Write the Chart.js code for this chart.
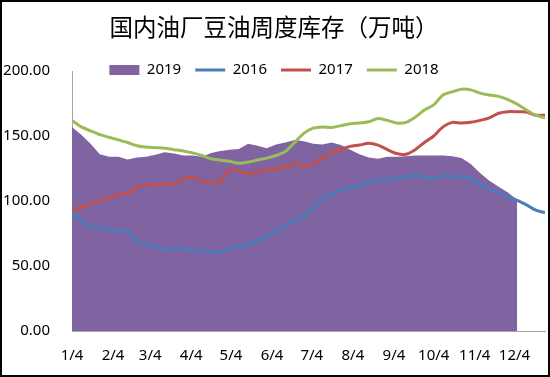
<!DOCTYPE html>
<html>
<head>
<meta charset="utf-8">
<script src="https://cdn.jsdelivr.net/npm/chart.js@4/dist/chart.umd.min.js"></script>
<style>
  body { margin: 0; background: #fff; }
  #frame { width: 550px; height: 377px; box-sizing: border-box; border: 2px solid #000; background: #fff; }
  #box { position: relative; width: 546px; height: 373px; }
</style>
</head>
<body>
<div id="frame"><div id="box"><canvas id="myChart"></canvas></div></div>
<script>
// days counted from 1/4, one point per week
var weekDays = [0, 7, 14, 21, 28, 35, 42, 49, 56, 63, 70, 77, 84, 91, 98, 105, 112, 119, 126, 133,
  140, 147, 154, 161, 168, 175, 182, 189, 196, 203, 210, 217, 224, 231, 238, 245, 252, 259, 266, 273,
  280, 287, 294, 301, 308, 315, 322, 329, 336, 343, 350, 357];
var monthTicks = [0, 31, 59, 90, 120, 151, 181, 212, 243, 273, 304, 334];
var monthLabels = ['1/4', '2/4', '3/4', '4/4', '5/4', '6/4', '7/4', '8/4', '9/4', '10/4', '11/4', '12/4'];
var yTicks = [0, 50, 100, 150, 200];

var d2019 = [157, 151, 144, 136, 134, 134, 132, 133.5, 134, 135.5, 137.5, 136.5, 135, 135, 134, 137, 138.5, 139.5, 140, 144,
  142.5, 140.5, 143.5, 145, 147, 146, 144, 143.5, 145, 143, 139.5, 136, 133.5, 132.5, 134, 134, 134.5, 135, 135, 135,
  135, 134.5, 133, 128.5, 121.5, 115.5, 111, 106.5, 101];
var d2016 = [91, 85, 80.5, 79, 78, 77, 77, 68.5, 67, 65, 62.5, 64, 63.5, 62, 61.5, 60.5, 61, 63, 65, 66.5,
  69.5, 73, 77, 81, 85, 89, 94, 102, 105, 108.5, 110, 112, 114.5, 116, 116.5, 117.5, 119, 119.5, 118.5, 118,
  119.5, 119, 118.7, 117.5, 113, 109, 106.5, 103, 100.5, 97, 93, 91];
var d2017 = [93, 95, 98, 100.5, 102, 105, 105.5, 111, 112, 113, 112.5, 113.5, 117, 118, 115, 114.5, 115, 124.5, 123, 121,
  122.5, 123.5, 124.5, 126, 129, 126.5, 129, 133, 137, 140, 142, 143, 144.4, 143, 139.5, 136.5, 136, 139.5, 145, 150,
  157, 160.5, 160, 160.5, 162, 164, 167.5, 168.7, 168.7, 168.5, 166, 166];
var d2018 = [162, 157, 154, 151, 149, 147, 145, 142.5, 141.5, 141, 140.5, 139.5, 138.5, 137, 135, 132.5, 131.5, 130.5, 129, 130,
  131.5, 133, 135, 138, 145, 152, 156, 157, 156.6, 158, 159.5, 160, 161, 163.5, 162, 160, 160.5, 164.5, 170, 174,
  181.5, 184, 186, 185.5, 183, 181.5, 180.5, 178, 174.5, 170, 166, 164];

function pts(arr) {
  return arr.map(function(v, i) { return {x: weekDays[i], y: v}; });
}

var tickFont = {family: "'Noto Sans', sans-serif", size: 15};

// legend sits right on the top edge of the plot, so let it draw past its box
var legendUnclip = {
  id: 'legendUnclip',
  afterLayout: function(chart) {
    if (chart.legend) chart.legend.bottom = chart.legend.top + 45;
  }
};

var ctx = document.getElementById('myChart').getContext('2d');
var chart = new Chart(ctx, {
  type: 'line',
  data: {
    datasets: [{
      label: '2019',
      data: pts(d2019),
      fill: 'origin',
      backgroundColor: '#8064A2',
      borderColor: '#8064A2',
      borderWidth: 0,
      pointRadius: 0,
      pointStyle: 'rect',
      tension: 0,
      order: 4
    }, {
      label: '2016',
      data: pts(d2016),
      borderColor: '#4A7EBB',
      backgroundColor: '#4A7EBB',
      borderWidth: 3,
      pointRadius: 0,
      pointStyle: 'line',
      tension: 0.25,
      order: 3
    }, {
      label: '2017',
      data: pts(d2017),
      borderColor: '#C0504D',
      backgroundColor: '#C0504D',
      borderWidth: 3,
      pointRadius: 0,
      pointStyle: 'line',
      tension: 0.25,
      order: 2
    }, {
      label: '2018',
      data: pts(d2018),
      borderColor: '#9BBB59',
      backgroundColor: '#9BBB59',
      borderWidth: 3,
      pointRadius: 0,
      pointStyle: 'line',
      tension: 0.25,
      order: 1
    }]
  },
  plugins: [legendUnclip],
  options: {
    responsive: true,
    maintainAspectRatio: false,
    animation: false,
    layout: {padding: {left: 1, right: 3, top: 0, bottom: 11}},
    plugins: {
      title: {
        display: true,
        text: '国内油厂豆油周度库存（万吨）',
        color: '#000',
        font: {family: "'Noto Sans CJK SC', sans-serif", size: 23.5, weight: 'normal'},
        padding: {top: 11, bottom: 7.2}
      },
      legend: {
        position: 'top',
        maxHeight: 22.6,
        labels: {
          usePointStyle: true,
          pointStyleWidth: 30,
          boxHeight: 10,
          padding: 14,
          color: '#000',
          font: tickFont,
          sort: function(a, b) { return a.datasetIndex - b.datasetIndex; }
        }
      },
      tooltip: {enabled: false}
    },
    scales: {
      x: {
        type: 'linear',
        min: 0,
        max: 357,
        grid: {display: false, drawTicks: false},
        border: {display: true, color: '#A6A6A6', width: 1},
        afterBuildTicks: function(scale) {
          scale.ticks = monthTicks.map(function(v) { return {value: v}; });
        },
        afterFit: function(scale) { scale.height = 33; },
        ticks: {
          autoSkip: false,
          maxRotation: 0,
          padding: 16,
          color: '#000',
          font: tickFont,
          callback: function(v) { return monthLabels[monthTicks.indexOf(v)]; }
        }
      },
      y: {
        min: 0,
        max: 200,
        grid: {display: false, drawTicks: false},
        border: {display: true, color: '#A6A6A6', width: 1},
        afterBuildTicks: function(scale) {
          scale.ticks = yTicks.map(function(v) { return {value: v}; });
        },
        afterFit: function(scale) { scale.width = 69; },
        ticks: {
          padding: 22,
          color: '#000',
          font: tickFont,
          callback: function(v) { return v.toFixed(2); }
        }
      }
    }
  }
});
</script>
</body>
</html>
